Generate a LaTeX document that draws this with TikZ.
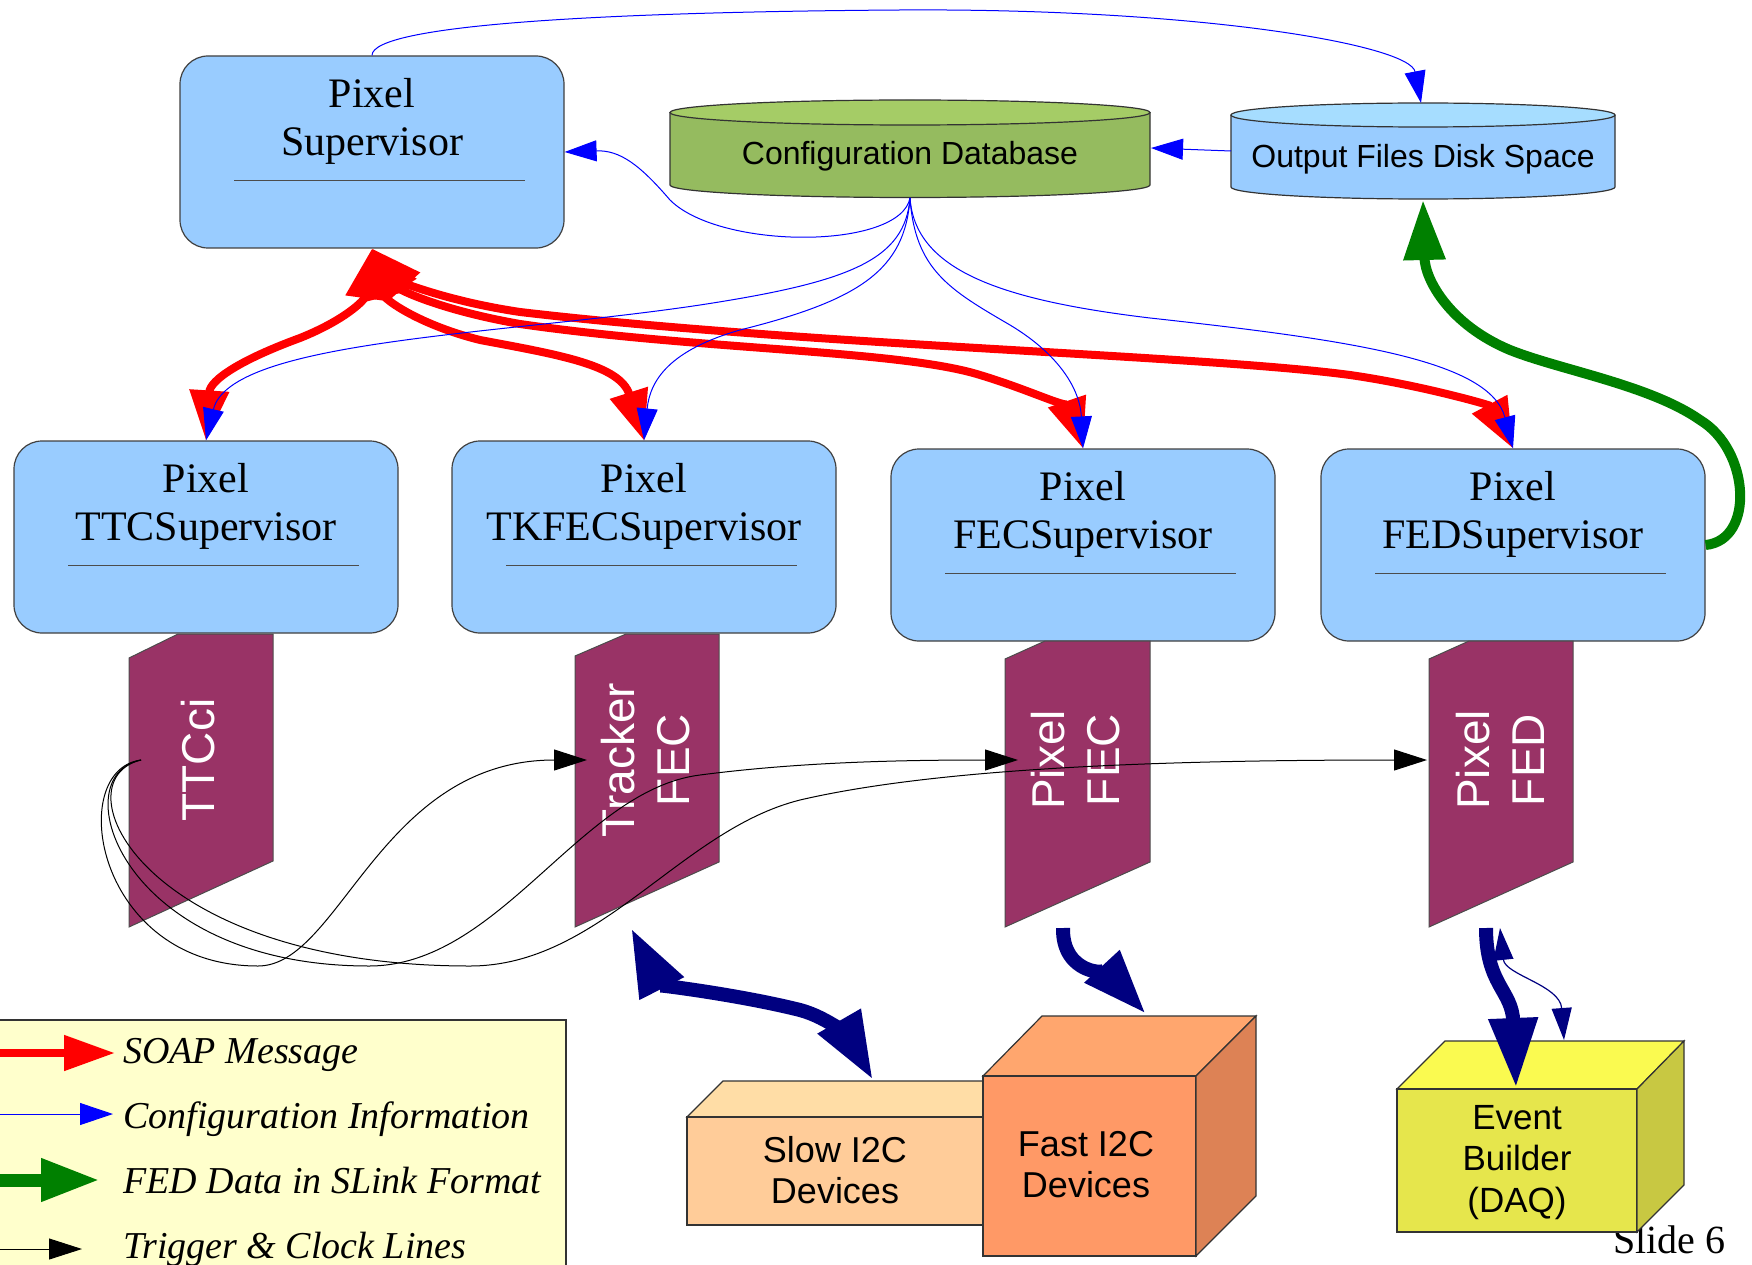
\documentclass[tikz,border=0pt]{standalone}
\usepackage{fontspec}
\setmainfont{Liberation Serif}
\setsansfont{Liberation Sans}
\usetikzlibrary{arrows.meta,positioning,calc}
\definecolor{supblue}{HTML}{99CCFF}
\definecolor{cardpurple}{HTML}{993366}
\definecolor{dbgreen}{HTML}{95BB5F}
\definecolor{dbgreentop}{HTML}{A5CC66}
\definecolor{disktop}{HTML}{A6DDFF}
\definecolor{slowfront}{HTML}{FFCC99}
\definecolor{slowtop}{HTML}{FFDDA6}
\definecolor{fastfront}{HTML}{FF9966}
\definecolor{fasttop}{HTML}{FFA66E}
\definecolor{fastside}{HTML}{DD8255}
\definecolor{ebfront}{HTML}{E6E64C}
\definecolor{ebtop}{HTML}{FAFA50}
\definecolor{ebside}{HTML}{C8C842}
\definecolor{legendyellow}{HTML}{FFFFCC}
\definecolor{fedgreen}{HTML}{008000}
\definecolor{navy}{HTML}{000080}
\begin{document}
\begin{tikzpicture}[x=1pt,y=-1pt,
 sup node/.style={draw=black!75,fill=supblue,line width=1.2pt,rounded corners=28pt,minimum width=384pt,minimum height=192pt},
 sup text/.style={font=\fontsize{42}{48}\selectfont,align=center,inner sep=0pt},
 sup rule/.style={draw=black!70,line width=1.4pt},
 card/.style={draw=black!70,fill=cardpurple,line width=1pt},
 card text/.style={font=\sffamily\fontsize{46}{55}\selectfont,text=white,align=center,rotate=90,inner sep=0pt},
 db/.style={draw=black!80,line width=1.2pt},
 db text/.style={font=\sffamily\fontsize{32}{36}\selectfont,inner sep=0pt,anchor=base},
 cube/.style={draw=black!80,line width=1.2pt},
 box text/.style={font=\sffamily\fontsize{36}{41}\selectfont,align=center,inner sep=0pt,anchor=north},
 legend text/.style={font=\itshape\fontsize{38}{40}\selectfont,inner sep=0pt,anchor=base west},
 soap/.style={red,line width=8pt,{Triangle[length=50pt,width=38pt]}-{Triangle[length=50pt,width=38pt]}},
 config/.style={blue,line width=1pt,-{Triangle[length=32pt,width=21pt]}},
 fed data/.style={fedgreen,line width=10pt,-{Triangle[length=60pt,width=40pt]}},
 trigger/.style={black,line width=1pt,-{Triangle[length=33pt,width=21pt]}},
 i2c/.style={navy,line width=14pt}]
\useasboundingbox (0,0) rectangle (1752,1265);
\clip (0,0) rectangle (1752,1265);

% legend
\filldraw[fill=legendyellow,draw=black!80,line width=2pt] (-10,1020) rectangle (566,1290);
\coordinate (lg1a) at (-10,1053); \coordinate (lg1b) at (115,1053);
\coordinate (lg2a) at (-10,1114); \coordinate (lg2b) at (113,1114);
\coordinate (lg3a) at (-10,1180); \coordinate (lg3b) at (100,1180);
\coordinate (lg4a) at (-10,1249); \coordinate (lg4b) at (82,1249);
\draw[red,line width=8pt,-{Triangle[length=51pt,width=34pt]}] (lg1a) -- (lg1b);
\draw[config,-{Triangle[length=33pt,width=22pt]}] (lg2a) -- (lg2b);
\draw[fedgreen,line width=13pt,-{Triangle[length=59pt,width=40pt]}] (lg3a) -- (lg3b);
\draw[trigger] (lg4a) -- (lg4b);
\node[legend text] (lg-soap) at (123,1063) {SOAP Message};
\node[legend text] (lg-config) at (123,1128) {Configuration Information};
\node[legend text] (lg-fed) at (123,1193) {FED Data in SLink Format};
\node[legend text] (lg-trigger) at (123,1258) {Trigger \& Clock Lines};

% databases
\fill[dbgreen] (670,112.5) -- (670,185) arc[start angle=180,end angle=0,x radius=240,y radius=12.5] -- (1150,112.5) -- cycle;
\draw[db] (670,112.5) -- (670,185) arc[start angle=180,end angle=0,x radius=240,y radius=12.5] -- (1150,112.5);
\filldraw[db,fill=dbgreentop] (910,112.5) ellipse[x radius=240,y radius=12.5];
\node[db text] (cfgdb) at (910,165) {Configuration Database};
\fill[supblue] (1231,115) -- (1231,187) arc[start angle=180,end angle=0,x radius=192,y radius=12] -- (1615,115) -- cycle;
\draw[db] (1231,115) -- (1231,187) arc[start angle=180,end angle=0,x radius=192,y radius=12] -- (1615,115);
\filldraw[db,fill=disktop] (1423,115) ellipse[x radius=192,y radius=12];
\node[db text] (outdisk) at (1423,168) {Output Files Disk Space};
\coordinate (cfgdb-s) at (910,198);
\coordinate (cfgdb-e) at (1151,148);
\coordinate (outdisk-w) at (1231,151);
\coordinate (outdisk-n) at (1421,103);
\coordinate (outdisk-s) at (1423,200);

% supervisors
\node[sup node] (pxsup) at (372,152) {};
\node[sup node] (ttcsup) at (206,537) {};
\node[sup node] (tkfecsup) at (644,537) {};
\node[sup node] (fecsup) at (1083,545) {};
\node[sup node] (fedsup) at (1513,545) {};
\node[sup text,below=23pt of pxsup.north] (pxsup-t) {Pixel\\Supervisor};
\node[sup text,below=23pt of ttcsup.north] (ttcsup-t) {Pixel\\TTCSupervisor};
\node[sup text,below=23pt of tkfecsup.north] (tkfecsup-t) {Pixel\\TKFECSupervisor};
\node[sup text,below=23pt of fecsup.north] (fecsup-t) {Pixel\\FECSupervisor};
\node[sup text,below=23pt of fedsup.north] (fedsup-t) {Pixel\\FEDSupervisor};
\foreach \s in {pxsup,ttcsup,tkfecsup,fecsup,fedsup}
  \draw[sup rule] ($(\s.north west)+(55,125)$) -- ($(\s.north east)+(-40,125)$);

% crates
\filldraw[card] (129,658) -- (178,634) -- (273,634) -- (273,861) -- (129,927) -- cycle;
\filldraw[card] (575,656) -- (626,634) -- (719,634) -- (719,862) -- (575,927) -- cycle;
\filldraw[card] (1005,659) -- (1045,641) -- (1150,641) -- (1150,862) -- (1005,927) -- cycle;
\filldraw[card] (1429,659) -- (1469,641) -- (1573,641) -- (1573,862) -- (1429,927) -- cycle;
\node[card text] (ttcci) at (198,760) {TTCci};
\node[card text] (tkfec) at (646,760) {Tracker\\FEC};
\node[card text] (pxfec) at (1076,760) {Pixel\\FEC};
\node[card text] (pxfed) at (1500,760) {Pixel\\FED};
\coordinate (ttcci-out) at (141,760);
\coordinate (tkfec-in) at (587,760);
\coordinate (pxfec-in) at (1018,760);
\coordinate (pxfed-in) at (1427,760);
\coordinate (tkfec-out) at (631,928);
\coordinate (pxfec-out) at (1063,928);
\coordinate (pxfed-out) at (1486,928);
\coordinate (pxfed-back) at (1500,928);

% SOAP messages
\draw[soap] (pxsup.south) .. controls (365,300) and (345,320) .. (300,338) .. controls (240,360) and (210,380) .. (ttcsup.north);
\draw[soap] (pxsup.south) .. controls (385,300) and (420,325) .. (480,340) .. controls (560,355) and (620,365) .. (tkfecsup.north);
\draw[soap] (pxsup.south) .. controls (400,290) and (440,310) .. (520,324) .. controls (700,350) and (900,350) .. (980,375) .. controls (1030,390) and (1070,410) .. (fecsup.north);
\draw[soap] (pxsup.south) .. controls (400,280) and (440,300) .. (520,312) .. controls (800,345) and (1200,355) .. (1350,375) .. controls (1420,385) and (1490,405) .. (fedsup.north);

% configuration
\draw[config] (cfgdb-s) .. controls (900,250) and (720,250) .. (670,200) .. controls (640,165) and (620,150) .. (pxsup.east);
\draw[config] (cfgdb-s) .. controls (905,260) and (850,282) .. (700,305) .. controls (500,335) and (230,340) .. (ttcsup.north);
\draw[config] (cfgdb-s) .. controls (905,270) and (860,300) .. (740,330) .. controls (670,350) and (650,380) .. (tkfecsup.north);
\draw[config] (cfgdb-s) .. controls (915,270) and (950,290) .. (1010,325) .. controls (1060,355) and (1080,390) .. (fecsup.north);
\draw[config] (cfgdb-s) .. controls (915,270) and (1000,300) .. (1150,318) .. controls (1350,340) and (1490,360) .. (fedsup.north);
\draw[config] (outdisk-w) -- (cfgdb-e);
\draw[config] (pxsup.north) .. controls (372,25) and (600,12) .. (900,10) .. controls (1200,8) and (1410,45) .. (outdisk-n);

% FED data
\draw[fed data] (fedsup.east) .. controls (1755,540) and (1750,450) .. (1700,420) .. controls (1650,385) and (1560,370) .. (1510,350) .. controls (1450,325) and (1425,280) .. (outdisk-s);

% trigger and clock
\draw[trigger] (ttcci-out) .. controls (65,770) and (95,966) .. (258,966) .. controls (340,966) and (380,760) .. (tkfec-in);
\draw[trigger] (ttcci-out) .. controls (62,775) and (120,966) .. (369,966) .. controls (500,966) and (580,790) .. (700,775) .. controls (800,762) and (900,760) .. (pxfec-in);
\draw[trigger] (ttcci-out) .. controls (58,780) and (140,966) .. (470,966) .. controls (600,966) and (680,830) .. (800,800) .. controls (950,765) and (1200,760) .. (pxfed-in);

% devices
\node[anchor=base west,font=\fontsize{40}{44}\selectfont,inner sep=0pt] (slide) at (1613,1253) {Slide 6};
\filldraw[cube,fill=slowtop] (687,1117) -- (723,1081) -- (1019,1081) -- (983,1117) -- cycle;
\filldraw[cube,fill=slowfront] (687,1117) rectangle (983,1225);
\filldraw[cube,fill=fasttop] (983,1076) -- (1042,1016) -- (1256,1016) -- (1196,1076) -- cycle;
\filldraw[cube,fill=fastfront] (983,1076) rectangle (1196,1256);
\filldraw[cube,fill=fastside] (1196,1076) -- (1256,1016) -- (1256,1196) -- (1196,1256) -- cycle;
\filldraw[cube,fill=ebtop] (1397,1089) -- (1445,1041) -- (1684,1041) -- (1637,1089) -- cycle;
\filldraw[cube,fill=ebfront] (1397,1089) rectangle (1637,1232);
\filldraw[cube,fill=ebside] (1637,1089) -- (1684,1041) -- (1684,1185) -- (1637,1232) -- cycle;
\node[box text] (slow) at (835,1136) {Slow I2C\\Devices};
\node[box text] (fast) at (1086,1131) {Fast I2C\\Devices};
\node[box text,font=\sffamily\fontsize{35}{41.5}\selectfont] (eb) at (1517,1105) {Event\\Builder\\(DAQ)};
\coordinate (slow-in) at (873,1080);
\coordinate (fast-in) at (1146,1014);
\coordinate (eb-in) at (1516,1088);
\coordinate (eb-back) at (1564,1040);

% I2C and DAQ links
\draw[i2c,{Triangle[length=68pt,width=46pt]}-{Triangle[length=68pt,width=46pt]}] (tkfec-out) .. controls (660,985) and (740,995) .. (800,1010) .. controls (830,1018) and (850,1040) .. (slow-in);
\draw[i2c,-{Triangle[length=65pt,width=44pt]}] (pxfec-out) .. controls (1062,975) and (1110,975) .. (fast-in);
\draw[i2c,-{Triangle[length=70pt,width=46pt]}] (pxfed-out) .. controls (1486,985) and (1512,990) .. (eb-in);
\draw[navy,line width=1.2pt,{Triangle[length=32pt,width=20pt]}-{Triangle[length=32pt,width=20pt]}] (pxfed-back) .. controls (1505,975) and (1560,985) .. (eb-back);
\end{tikzpicture}
\end{document}
